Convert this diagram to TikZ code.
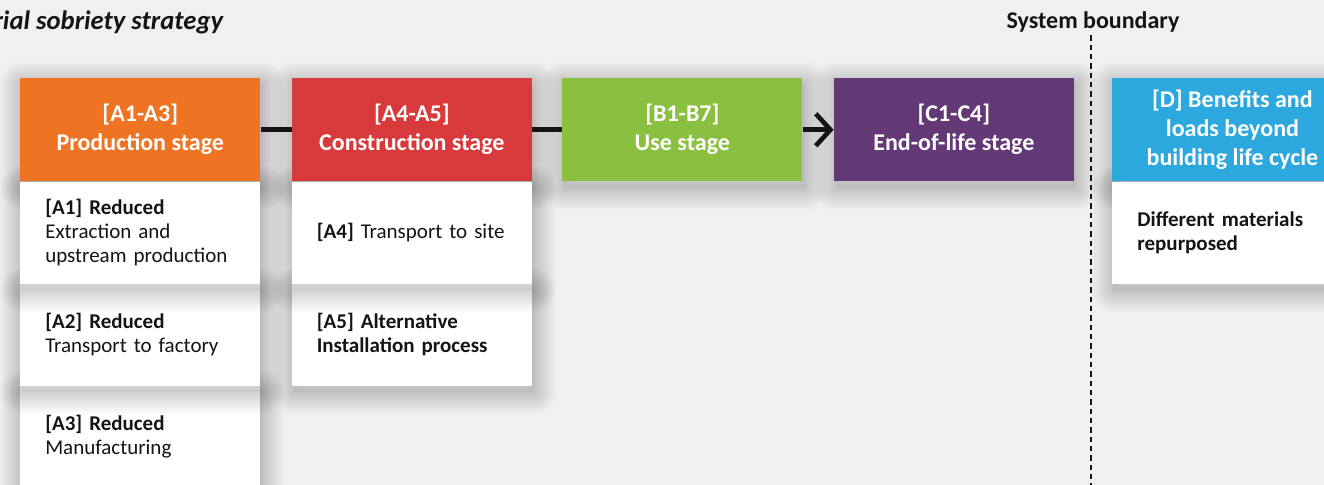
\documentclass[tikz,border=0pt]{standalone}
\usepackage{fontspec}
\setmainfont{Carlito}
\usetikzlibrary{arrows.meta,positioning}

\pgfdeclarelayer{front}
\pgfsetlayers{main,front}

\definecolor{prodorange}{RGB}{238,116,35}
\definecolor{constrred}{RGB}{216,57,58}
\definecolor{usegreen}{RGB}{138,191,64}
\definecolor{eolpurple}{RGB}{99,57,117}
\definecolor{benefitblue}{RGB}{44,168,222}
\definecolor{bggray}{RGB}{240,240,240}
\definecolor{ink}{RGB}{20,20,20}

\tikzset{
  % soft shadow: a fill and many wide faint strokes under the box
  shadowring/.style={preaction={draw=black, draw opacity=0.016, line width=#1pt,
      line join=round, transform canvas={xshift=1.5pt,yshift=-4.5pt}}},
  softshadow/.style={
      preaction={fill=black, fill opacity=0.03, transform canvas={xshift=1.5pt,yshift=-4.5pt}},
      shadowring/.list={3,6,...,33}},
  stage/.style={fill=#1, text=white, font=\fontsize{18}{21.75}\selectfont\bfseries,
      align=center, minimum width=180pt, minimum height=77.25pt, inner sep=0pt},
  module/.style={fill=white, text=ink, font=\fontsize{15.75}{18}\selectfont,
      text width=142.5pt, align=left, inner xsep=18.75pt, inner ysep=0pt,
      minimum height=76.5pt, softshadow},
  heading/.style={text=ink, font=\fontsize{18}{21.75}\selectfont\bfseries, inner sep=2pt},
  link/.style={line width=3.5pt, ink},
  boundary/.style={line width=1.1pt, ink, dash pattern=on 4pt off 3pt},
}

\begin{document}
\begin{tikzpicture}[x=0.75pt,y=0.75pt]

  \fill[bggray] (0,0) rectangle (1324,-485);
  \useasboundingbox (0,0) rectangle (1324,-485);

  % titles
  \node[heading, font=\fontsize{20}{24}\selectfont\bfseries\itshape, anchor=east] (title) at (226,-22) {Material sobriety strategy};
  \node[heading] (sysb) at (1093,-22) {System boundary};

  % life cycle stages, kept on top of the module shadows
  \begin{pgfonlayer}{front}
  \node[stage=prodorange, anchor=north west] (prod) at (20,-78) {[A1-A3]\\Production stage};
  \node[stage=constrred, right=23.25pt of prod] (constr) {[A4-A5]\\Construction stage};
  \node[stage=usegreen, right=22.5pt of constr] (use) {[B1-B7]\\Use stage};
  \node[stage=eolpurple, right=23.25pt of use] (eol) {[C1-C4]\\End-of-life stage};
  \node[stage=benefitblue, right=28.5pt of eol] (beyond) {[D] Benefits and\\loads beyond\\building life cycle};
  \end{pgfonlayer}

  \foreach \s in {prod,constr,use,eol,beyond}
    \path[softshadow] (\s.south west) rectangle (\s.north east);

  \draw[link] (prod) -- (constr);
  \draw[link] (constr) -- (use);
  \draw[link, -{Straight Barb[length=11pt,width=24pt]}] (use) -- (eol);

  % modules, bottom first so the shadows fall on the box below
  \node[module, below=153pt of prod] (a3) {\textbf{[A3] Reduced}\\Manufacturing};
  \node[module, below=76.5pt of prod] (a2) {\textbf{[A2] Reduced}\\Transport to factory};
  \node[module, below=0pt of prod] (a1) {\textbf{[A1] Reduced}\\Extraction and\\upstream production};

  \node[module, below=76.5pt of constr] (a5) {\textbf{[A5] Alternative\\Installation process}};
  \node[module, below=0pt of constr] (a4) {\textbf{[A4]} Transport to site};

  \node[module, below=0pt of beyond] (dben) {\textbf{Different materials\\repurposed}};

  % system boundary
  \coordinate (bnd) at (1091,-490);
  \draw[boundary] (sysb.south -| bnd) -- (bnd);

\end{tikzpicture}
\end{document}
